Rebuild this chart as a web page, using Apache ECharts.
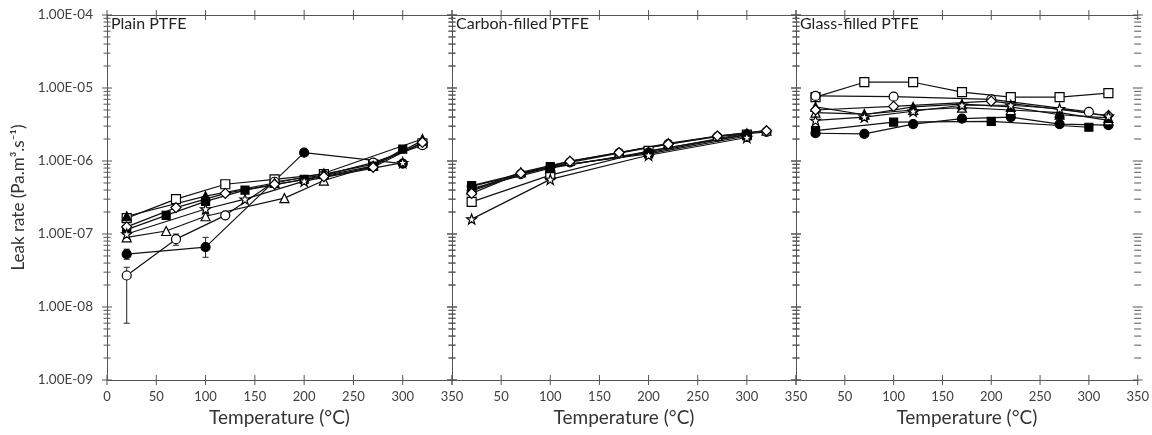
<!DOCTYPE html>
<html>
<head>
<meta charset="utf-8">
<script src="https://cdn.jsdelivr.net/npm/echarts@6/dist/echarts.min.js"></script>
<style>
    html, body { margin: 0; padding: 0; background: #fff; }
    #chart { width: 1152px; height: 435px; }
</style>
</head>
<body>
<div id="chart"></div>
<script>
// panel titles and x ticks
var panelTitles = ['Plain PTFE', 'Carbon-filled PTFE', 'Glass-filled PTFE'];
var xTicks = [0, 50, 100, 150, 200, 250, 300, 350];

// each panel: list of series, each series = [temperature, leak rate] pairs
var plainSeries = [
    [[20, 1.65e-7], [70, 3.0e-7], [120, 4.8e-7], [170, 5.6e-7], [220, 6.6e-7], [270, 9.0e-7], [320, 1.75e-6]],
    [[20, 5.3e-8], [100, 6.6e-8], [200, 1.3e-6], [300, 9.2e-7]],
    [[20, 2.7e-8], [70, 8.5e-8], [120, 1.8e-7], [170, 5.2e-7], [220, 6.4e-7], [270, 9.5e-7], [320, 1.65e-6]],
    [[20, 1.15e-7], [60, 1.8e-7], [100, 2.8e-7], [140, 4.0e-7], [200, 5.6e-7], [270, 8.5e-7], [300, 1.45e-6]],
    [[20, 9.0e-8], [60, 1.1e-7], [100, 1.75e-7], [180, 3.1e-7], [220, 5.4e-7], [270, 8.6e-7], [320, 1.9e-6]],
    [[20, 1.75e-7], [100, 3.3e-7], [170, 5.0e-7], [220, 6.8e-7], [320, 2.0e-6]],
    [[20, 1.25e-7], [70, 2.3e-7], [120, 3.6e-7], [170, 4.8e-7], [220, 6.1e-7], [270, 8.2e-7], [320, 1.8e-6]],
    [[20, 1.0e-7], [100, 2.2e-7], [140, 3.0e-7], [200, 5.3e-7], [300, 9.5e-7]]
];
var carbonSeries = [
    [[20, 2.75e-7], [100, 6.4e-7], [200, 1.38e-6], [300, 2.3e-6]],
    [[20, 4.5e-7], [100, 8.2e-7], [200, 1.3e-6], [300, 2.3e-6]],
    [[20, 3.9e-7], [70, 6.6e-7], [120, 9.6e-7], [170, 1.28e-6], [220, 1.7e-6], [270, 2.15e-6], [320, 2.5e-6]],
    [[20, 4.6e-7], [100, 8.4e-7], [200, 1.25e-6], [300, 2.2e-6]],
    [[20, 4.0e-7], [70, 7.0e-7], [120, 1.0e-6], [170, 1.3e-6], [220, 1.75e-6], [270, 2.2e-6], [320, 2.6e-6]],
    [[20, 4.2e-7], [100, 8.0e-7], [200, 1.35e-6], [300, 2.4e-6]],
    [[20, 3.6e-7], [70, 6.8e-7], [120, 9.9e-7], [170, 1.3e-6], [220, 1.7e-6], [270, 2.2e-6], [320, 2.6e-6]],
    [[20, 1.6e-7], [100, 5.6e-7], [200, 1.2e-6], [300, 2.1e-6]]
];
var glassSeries = [
    [[20, 7.5e-6], [70, 1.2e-5], [120, 1.2e-5], [170, 8.8e-6], [220, 7.5e-6], [270, 7.5e-6], [320, 8.5e-6]],
    [[20, 2.4e-6], [70, 2.35e-6], [120, 3.2e-6], [170, 3.8e-6], [220, 4.0e-6], [270, 3.2e-6], [320, 3.1e-6]],
    [[20, 7.8e-6], [100, 7.6e-6], [200, 7.0e-6], [300, 4.7e-6]],
    [[20, 2.6e-6], [100, 3.4e-6], [200, 3.5e-6], [300, 2.9e-6]],
    [[20, 4.6e-6], [70, 4.4e-6], [120, 5.0e-6], [170, 5.4e-6], [220, 5.0e-6], [270, 4.6e-6], [320, 3.6e-6]],
    [[20, 5.5e-6], [70, 4.3e-6], [120, 5.5e-6], [170, 6.0e-6], [220, 5.5e-6], [270, 4.3e-6], [320, 3.9e-6]],
    [[20, 5.0e-6], [100, 5.6e-6], [200, 6.6e-6], [320, 4.2e-6]],
    [[20, 3.6e-6], [70, 4.0e-6], [120, 4.8e-6], [170, 5.8e-6], [220, 5.8e-6], [270, 5.2e-6], [320, 4.1e-6]]
];
// error bars on plain PTFE: [temperature, low, high]
var plainErrors = [[20, 6.0e-9, 3.5e-8], [20, 4.5e-8, 6.2e-8], [70, 7.0e-8, 1.0e-7], [100, 4.8e-8, 9.0e-8]];

var panelData = [plainSeries, carbonSeries, glassSeries];

//marker look for series 0..7
var starPath = 'path://M0,-10L2.4,-3.3L9.5,-3.1L3.8,1.2L5.9,8.1L0,4L-5.9,8.1L-3.8,1.2L-9.5,-3.1L-2.4,-3.3Z';
var markerStyles = [
    { symbol: 'rect', fill: '#fff', size: 9 },
    { symbol: 'circle', fill: '#000', size: 9 },
    { symbol: 'circle', fill: '#fff', size: 9 },
    { symbol: 'rect', fill: '#000', size: 8 },
    { symbol: 'triangle', fill: '#fff', size: 9 },
    { symbol: 'triangle', fill: '#000', size: 9 },
    { symbol: 'diamond', fill: '#fff', size: 10 },
    { symbol: starPath, fill: '#fff', size: 10 }
];

var FONT = 'Lato';
var AXIS_COLOR = '#555';
var TEXT_COLOR = '#404040';
var Y_MIN = 1e-9, Y_MAX = 1e-4;

var grids = [
    { left: 107, top: 15, width: 345, height: 365 },
    { left: 452, top: 15, width: 344, height: 365 },
    { left: 796, top: 15, width: 344, height: 365 }
];

function expLabel(v) {
    var e = Math.round(Math.log10(v));
    return '1.00E-' + String(-e).padStart(2, '0');
}

// tick positions for the log axis (1..9 per decade) and x axis
var tickData = [];
for (var n = -9; n < -4; n++) {
    for (var k = 1; k <= 9; k++) {
        tickData.push([0, k * Math.pow(10, n), 0, k === 1 ? 1 : 0]);
    }
}
tickData.push([0, 1e-4, 0, 1]);
xTicks.forEach(function (t) { tickData.push([t, 1e-9, 1, 1]); });

function renderTick(params, api) {
    var type = api.value(2);
    var major = api.value(3);
    var st = { stroke: AXIS_COLOR, lineWidth: 1 };
    var children = [];
    if (type === 0) {
        var y = api.value(1);
        var len = major ? 5 : 3.5;
        [0, 350].forEach(function (xv) {
            var p = api.coord([xv, y]);
            children.push({ type: 'line', shape: { x1: p[0] - len, y1: p[1], x2: p[0] + len, y2: p[1] }, style: st });
        });
    } else {
        var x = api.value(0);
        [Y_MIN, Y_MAX].forEach(function (yv) {
            var p = api.coord([x, yv]);
            children.push({ type: 'line', shape: { x1: p[0], y1: p[1] - 5, x2: p[0], y2: p[1] + 5 }, style: st });
        });
    }
    return { type: 'group', children: children };
}

function renderError(params, api) {
    var x = api.value(0);
    var lo = api.coord([x, api.value(1)]);
    var hi = api.coord([x, api.value(2)]);
    var st = { stroke: '#222', lineWidth: 1 };
    return {
        type: 'group',
        children: [
            { type: 'line', shape: { x1: lo[0], y1: lo[1], x2: hi[0], y2: hi[1] }, style: st },
            { type: 'line', shape: { x1: lo[0] - 3, y1: lo[1], x2: lo[0] + 3, y2: lo[1] }, style: st },
            { type: 'line', shape: { x1: hi[0] - 3, y1: hi[1], x2: hi[0] + 3, y2: hi[1] }, style: st }
        ]
    };
}

var xAxes = [], yAxes = [], series = [], graphics = [];

grids.forEach(function (g, i) {
    xAxes.push({
        type: 'value', gridIndex: i, min: 0, max: 350, interval: 50, position: 'bottom',
        axisLine: { show: true, lineStyle: { color: AXIS_COLOR } },
        axisTick: { show: false },
        splitLine: { show: false },
        axisLabel: {
            color: TEXT_COLOR, fontFamily: FONT, fontSize: 13, margin: 10,
            showMinLabel: i === 0, showMaxLabel: true
        },
        name: 'Temperature (°C)', nameLocation: 'middle', nameGap: 28,
        nameTextStyle: { color: '#333', fontFamily: FONT, fontSize: 19 }
    });
    yAxes.push({
        type: 'log', logBase: 10, gridIndex: i, min: Y_MIN, max: Y_MAX, position: 'left',
        axisLine: { show: true, lineStyle: { color: AXIS_COLOR } },
        axisTick: { show: false },
        splitLine: { show: false },
        axisLabel: {
            show: i === 0, color: TEXT_COLOR, fontFamily: FONT, fontSize: 13.5, margin: 14,
            formatter: expLabel
        },
        name: i === 0 ? 'Leak rate (Pa.m³.s⁻¹)' : '', nameLocation: 'middle', nameGap: 80, nameRotate: 90,
        nameTextStyle: { color: '#333', fontFamily: FONT, fontSize: 17 }
    });
});
// frame axes: top and right
grids.forEach(function (g, i) {
    xAxes.push({
        type: 'value', gridIndex: i, min: 0, max: 350, position: 'top',
        axisLine: { show: true, onZero: false, lineStyle: { color: AXIS_COLOR } },
        axisTick: { show: false }, axisLabel: { show: false }, splitLine: { show: false }
    });
    yAxes.push({
        type: 'log', logBase: 10, gridIndex: i, min: Y_MIN, max: Y_MAX, position: 'right',
        axisLine: { show: true, lineStyle: { color: AXIS_COLOR } },
        axisTick: { show: false }, axisLabel: { show: false }, splitLine: { show: false }
    });
});

grids.forEach(function (g, i) {
    series.push({
        type: 'custom', xAxisIndex: i, yAxisIndex: i, silent: true, z: 1,
        renderItem: renderTick, data: tickData, encode: { x: 0, y: 1 }
    });
    panelData[i].forEach(function (pts, s) {
        var m = markerStyles[s];
        series.push({
            type: 'line', xAxisIndex: i, yAxisIndex: i, data: pts,
            symbol: m.symbol, symbolSize: m.size, showAllSymbol: true,
            lineStyle: { color: '#111', width: 1.2 },
            itemStyle: { color: m.fill, borderColor: '#000', borderWidth: 1.2 },
            animation: false, silent: true, z: 3
        });
    });
    graphics.push({
        type: 'text', left: g.left + 4, top: 16,
        style: { text: panelTitles[i], fill: '#222', font: '16px ' + FONT }
    });
});

series.push({
    type: 'custom', xAxisIndex: 0, yAxisIndex: 0, silent: true, z: 2,
    renderItem: renderError, data: plainErrors, encode: { x: 0, y: [1, 2] }
});

var chart = echarts.init(document.getElementById('chart'));
chart.setOption({
    animation: false,
    backgroundColor: '#fff',
    grid: grids,
    xAxis: xAxes,
    yAxis: yAxes,
    series: series,
    graphic: graphics
});
</script>
</body>
</html>
